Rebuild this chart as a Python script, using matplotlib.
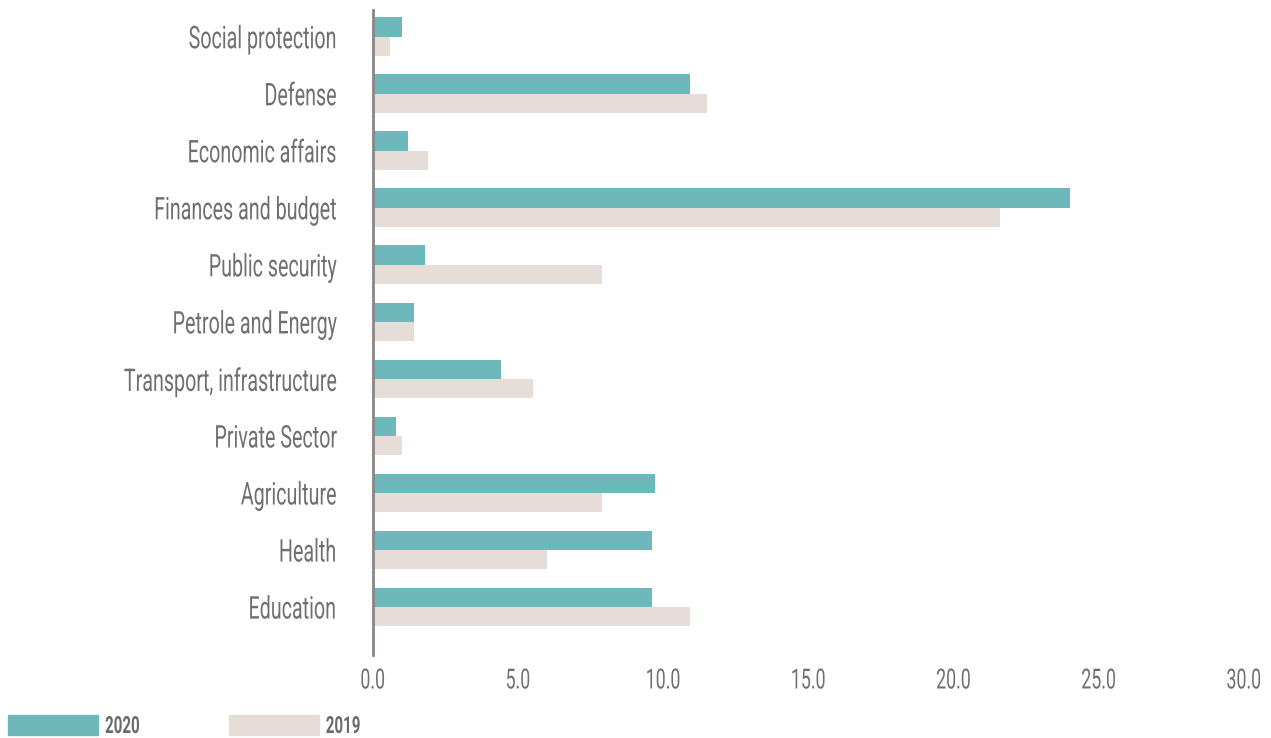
import numpy as np
import matplotlib.pyplot as plt
from matplotlib.patches import Patch
from matplotlib.patheffects import AbstractPathEffect
from matplotlib.transforms import Affine2D

categories = ["Social protection", "Defense", "Economic affairs", "Finances and budget",
              "Public security", "Petrole and Energy", "Transport, infrastructure",
              "Private Sector", "Agriculture", "Health", "Education"]
values_2020 = [1.0, 10.9, 1.2, 24.0, 1.8, 1.4, 4.4, 0.8, 9.7, 9.6, 9.6]
values_2019 = [0.6, 11.5, 1.9, 21.6, 7.9, 1.4, 5.5, 1.0, 7.9, 6.0, 10.9]
xticks = [0, 5, 10, 15, 20, 25, 30]

teal = "#6db8ba"
beige = "#e7ddd8"
grey = "#6f6f6f"


class Condensed(AbstractPathEffect):
    # squeeze glyphs horizontally, keeping one edge (or the middle) in place
    def __init__(self, sx=0.64, anchor="left"):
        super().__init__()
        self.sx = sx
        self.anchor = anchor

    def draw_path(self, renderer, gc, tpath, affine, rgbFace=None):
        xs = tpath.vertices[:, 0]
        x0 = 0.0
        if len(xs):
            if self.anchor == "right":
                x0 = xs.max()
            elif self.anchor == "center":
                x0 = (xs.min() + xs.max()) / 2
            else:
                x0 = xs.min()
        squeeze = Affine2D().translate(-x0, 0).scale(self.sx, 1).translate(x0, 0)
        renderer.draw_path(gc, tpath, squeeze + affine, rgbFace)


plt.rcParams['font.family'] = ["Roboto", "DejaVu Sans"]

fig = plt.figure(figsize=(12.71, 7.38), dpi=100)
ax = fig.add_axes([0.2935, 0.1125, 0.6853, 0.874])

y = np.arange(len(categories))
h = 0.34
ax.barh(y - h / 2, values_2020, height=h, color=teal, label="2020")
ax.barh(y + h / 2, values_2019, height=h, color=beige, label="2019")

ax.set_ylim(len(categories) - 0.16, -0.47)
ax.set_xlim(0, 30)

ax.set_yticks(y)
ax.set_yticklabels(categories, fontsize=22.5, color=grey)
ax.set_xticks(xticks)
ax.set_xticklabels(["%.1f" % t for t in xticks], fontsize=20, color=grey)
ax.tick_params(axis='both', length=0)
ax.tick_params(axis='y', pad=26)
ax.tick_params(axis='x', pad=9)
for lab in ax.get_yticklabels():
    lab.set_path_effects([Condensed(0.63, "right")])
for lab in ax.get_xticklabels():
    lab.set_path_effects([Condensed(0.64, "center")])

for s in ['top', 'right', 'bottom']:
    ax.spines[s].set_visible(False)
ax.spines['left'].set_color("#8a8685")
ax.spines['left'].set_linewidth(2)

handles = [Patch(color=teal), Patch(color=beige)]
leg = fig.legend(handles, ["2020", "2019"], loc='lower left',
                 bbox_to_anchor=(8 / 1271, 0.0), ncol=2, frameon=False,
                 handlelength=3.81, handleheight=0.93, handletextpad=0.3,
                 columnspacing=2.93, borderpad=0.0, borderaxespad=0.0,
                 prop={'size': 17, 'weight': 'bold'}, labelcolor="#6a6a6a")
for t in leg.get_texts():
    t.set_path_effects([Condensed(0.64, "left")])

fig.savefig("out.png", dpi=100)
